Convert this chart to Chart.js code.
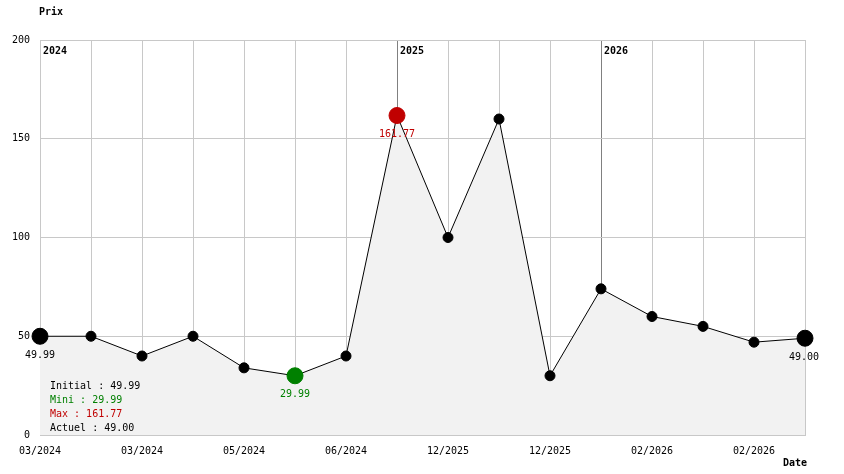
<!DOCTYPE html>
<html>
<head>
<meta charset="utf-8">
<script src="https://cdn.jsdelivr.net/npm/chart.js@4"></script>
<style>
  html, body { margin: 0; padding: 0; background: #fff; }
  #wrap { width: 844px; height: 474px; }
</style>
</head>
<body>
<div id="wrap"><canvas id="prix"></canvas></div>
<script>
const dates = ['03/2024', '', '03/2024', '', '05/2024', '', '06/2024', '', '12/2025', '', '12/2025', '', '02/2026', '', '02/2026', ''];
const prices = [49.99, 50, 40, 50, 34, 29.99, 40, 161.77, 100, 160, 30, 74, 60, 55, 47, 49.00];
const years = ['2024', '2025', '2026'];
const yearIndex = [0, 7, 11];
const yTicks = [0, 50, 100, 150, 200];

const FONT = '"DejaVu Sans Mono", monospace';
const minIdx = prices.indexOf(Math.min(...prices));
const maxIdx = prices.indexOf(Math.max(...prices));
const lastIdx = prices.length - 1;

const pointColors = prices.map((v, i) => i === minIdx ? '#008000' : i === maxIdx ? '#c00000' : '#000');
const pointSizes = prices.map((v, i) => (i === 0 || i === lastIdx || i === minIdx || i === maxIdx) ? 8 : 5);

const extras = {
  id: 'extras',
  afterDraw(chart) {
    const ctx = chart.ctx;
    const x = chart.scales.x, y = chart.scales.y;
    ctx.save();
    ctx.font = 'bold 10px ' + FONT;
    ctx.fillStyle = '#000';
    ctx.textBaseline = 'middle';
    ctx.textAlign = 'left';
    ctx.fillText('Prix', 39, 12);
    ctx.fillText('Date', 783, 463);
    years.forEach((yr, k) => {
      ctx.fillText(yr, x.getPixelForValue(yearIndex[k]) + 3, 51);
    });
    ctx.font = '10px ' + FONT;
    ctx.textAlign = 'center';
    const lab = (i, color, dx, dy) => {
      ctx.fillStyle = color;
      ctx.fillText(prices[i].toFixed(2), x.getPixelForValue(i) + dx, y.getPixelForValue(prices[i]) + dy);
    };
    lab(0, '#000', 0, 19);
    lab(lastIdx, '#000', -1, 19);
    lab(minIdx, '#008000', 0, 19);
    lab(maxIdx, '#c00000', 0, 19);
    ctx.textAlign = 'left';
    const leg = [
      ['Initial : ' + prices[0].toFixed(2), '#000'],
      ['Mini : ' + prices[minIdx].toFixed(2), '#008000'],
      ['Max : ' + prices[maxIdx].toFixed(2), '#c00000'],
      ['Actuel : ' + prices[lastIdx].toFixed(2), '#000']
    ];
    leg.forEach((l, k) => {
      ctx.fillStyle = l[1];
      ctx.fillText(l[0], 50, 386 + k * 14);
    });
    ctx.restore();
  }
};

new Chart(document.getElementById('prix').getContext('2d'), {
  type: 'line',
  data: {
    labels: dates,
    datasets: [{
      data: prices,
      borderColor: '#000',
      borderWidth: 1,
      backgroundColor: '#f2f2f2',
      fill: 'origin',
      tension: 0,
      pointBackgroundColor: pointColors,
      pointBorderColor: pointColors,
      pointRadius: pointSizes,
      pointHoverRadius: pointSizes
    }]
  },
  options: {
    responsive: true,
    maintainAspectRatio: false,
    animation: false,
    layout: { padding: { top: 40, right: 39, left: 0, bottom: 0 } },
    plugins: { legend: { display: false }, tooltip: { enabled: false } },
    scales: {
      x: {
        offset: false,
        grid: {
          color: (c) => yearIndex.includes(c.index) ? '#808080' : '#c8c8c8',
          drawTicks: false
        },
        border: { color: '#c8c8c8' },
        ticks: {
          autoSkip: false, maxRotation: 0, padding: 10,
          color: '#000', font: { family: FONT, size: 10 }
        },
        afterFit(s) { s.height = 39; }
      },
      y: {
        min: 0, max: 200,
        afterBuildTicks(s) { s.ticks = yTicks.map(v => ({ value: v })); },
        grid: { color: '#c8c8c8', drawTicks: false },
        border: { color: '#c8c8c8' },
        ticks: { padding: 10, color: '#000', font: { family: FONT, size: 10 } },
        afterFit(s) { s.width = 40; }
      }
    }
  },
  plugins: [extras]
});
</script>
</body>
</html>
